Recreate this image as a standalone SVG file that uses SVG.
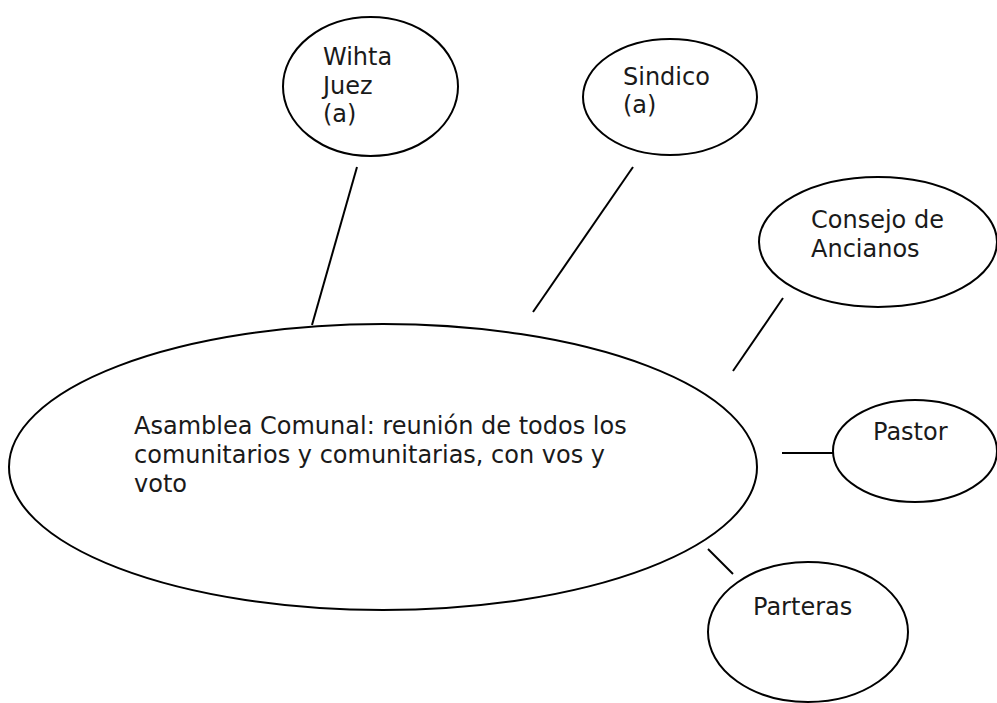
<svg xmlns="http://www.w3.org/2000/svg" width="997" height="703" viewBox="0 0 997 703">
<style>
.n ellipse{fill:#fff;stroke:#000;stroke-width:2}
.c line{stroke:#000;stroke-width:2}
text{font-family:"DejaVu Sans",Verdana,sans-serif;font-size:24px;fill:#1a1a1a}
</style>
<rect width="997" height="703" fill="#fff"/>
<g class="c" id="connectors">
<line x1="357" y1="167" x2="312" y2="325"/>
<line x1="633" y1="167" x2="533" y2="312"/>
<line x1="783" y1="298" x2="733" y2="371"/>
<line x1="782" y1="453" x2="833" y2="453"/>
<line x1="708" y1="549" x2="733" y2="574"/>
</g>
<g class="n" id="asamblea">
<ellipse cx="383" cy="467" rx="374" ry="143"/>
<text x="134" y="434">Asamblea Comunal: reunión de todos los</text>
<text x="134" y="463">comunitarios y comunitarias, con vos y</text>
<text x="134" y="492">voto</text>
</g>
<g class="n" id="wihta">
<ellipse cx="370.5" cy="86.5" rx="87.5" ry="69.5"/>
<text x="323" y="65">Wihta</text>
<text x="323" y="94">Juez</text>
<text x="323" y="122">(a)</text>
</g>
<g class="n" id="sindico">
<ellipse cx="670" cy="97" rx="87" ry="58"/>
<text x="623" y="85">Sindico</text>
<text x="623" y="113">(a)</text>
</g>
<g class="n" id="consejo">
<ellipse cx="878" cy="242" rx="119" ry="65"/>
<text x="811" y="228">Consejo de</text>
<text x="811" y="257">Ancianos</text>
</g>
<g class="n" id="pastor">
<ellipse cx="915" cy="451" rx="82" ry="51"/>
<text x="873" y="440">Pastor</text>
</g>
<g class="n" id="parteras">
<ellipse cx="808" cy="632" rx="100" ry="70"/>
<text x="753" y="615">Parteras</text>
</g>
</svg>
